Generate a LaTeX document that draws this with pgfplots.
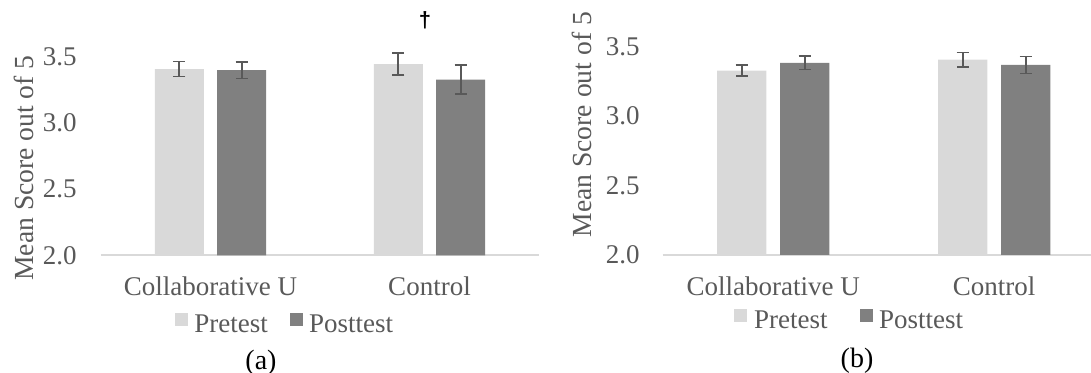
\documentclass[border=0pt]{standalone}
\usepackage{fontspec}
\setmainfont{Liberation Serif}
\newfontfamily\daggerfont{Liberation Sans}
\usepackage{pgfplots}
\pgfplotsset{compat=1.18}
\definecolor{txt}{HTML}{595959}
\definecolor{pre}{HTML}{D9D9D9}
\definecolor{post}{HTML}{808080}
\definecolor{err}{HTML}{595959}
\definecolor{axl}{HTML}{D9D9D9}
\newcommand{\chartfont}{\fontsize{13.5}{15}\selectfont}
\pgfplotsset{
  mystyle/.style={
    scale only axis, anchor=south west,
    ybar, bar width=0.2235,
    ymin=2, ymax=3.9, xmin=-0.5, xmax=1.5, enlargelimits=false,
    axis lines*=left,
    y axis line style={draw=none},
    x axis line style={draw=axl, line width=1pt},
    major tick length=0pt,
    xtick={0,1}, xticklabels={Collaborative U, Control},
    ytick={2,2.5,3,3.5},
    yticklabel={\pgfmathprintnumber[fixed,fixed zerofill,precision=1]{\tick}},
    /pgf/number format/assume math mode=true,
    ticklabel style={font=\chartfont, text=txt},
    label style={font=\chartfont, text=txt},
    legend columns=2,
    legend style={draw=none, fill=none, inner sep=0pt, outer sep=0pt,
      anchor=west, row sep=0pt,
      nodes={inner sep=0pt, outer sep=0pt, font=\chartfont, text=txt}},
  },
  errstyle/.style={error bars/.cd, y dir=both, y explicit,
    error bar style={err, line width=0.8pt},
    error mark options={rotate=90, mark size=3.1pt, line width=0.8pt, err},
    /pgfplots/.cd},
}
\begin{document}
\begin{tikzpicture}
\path[use as bounding box] (0,0) rectangle (545.5pt,186.5pt);
% (a)
\begin{axis}[mystyle, at={(50.5pt,58.75pt)}, width=219pt, height=126.06pt,
  xticklabel style={anchor=base, inner sep=0pt, yshift=-20.25pt},
  yticklabel style={anchor=east, inner sep=0pt, xshift=-12pt},
  ylabel={Mean Score out of 5},
  ylabel style={at={(axis description cs:-0.1758,0.347)}, anchor=center, font=\fontsize{13.8}{15}\selectfont},
  xlabel={(a)},
  xlabel style={at={(axis description cs:0.3653,-0.4245)}, anchor=center, text=black, font=\fontsize{14}{15}\selectfont},
  legend style={at={(axis description cs:0.169,-0.2725)},
    /tikz/every even column/.append style={column sep=11pt}},
]
\addplot[fill=pre, draw=none, bar shift=-0.1425,
  legend image code/.code={\fill[pre] (0pt,0pt) rectangle (6.5pt,6.5pt); \path (9.65pt,0pt);}, errstyle]
  coordinates {(0,3.405) +- (0,0.057) (1,3.443) +- (0,0.085)};
\addplot[fill=post, draw=none, bar shift=0.1425,
  legend image code/.code={\fill[post] (0pt,0pt) rectangle (6.5pt,6.5pt); \path (9.65pt,0pt);}, errstyle]
  coordinates {(0,3.397) +- (0,0.063) (1,3.325) +- (0,0.110)};
\legend{Pretest, Posttest}
\node[text=black, inner sep=0pt, font=\daggerfont\bfseries\fontsize{11}{11}\selectfont] at (axis cs:0.979,3.77) {†};
\end{axis}
% (b)
\begin{axis}[mystyle, at={(331.35pt,59pt)}, width=221pt, height=131.96pt,
  xticklabel style={anchor=base, inner sep=0pt, yshift=-20.25pt},
  yticklabel style={anchor=east, inner sep=0pt, xshift=-11.35pt},
  ylabel={Mean Score out of 5},
  ylabel style={at={(axis description cs:-0.1817,0.4937)}, anchor=center, font=\fontsize{13.8}{15}\selectfont},
  xlabel={(b)},
  xlabel style={at={(axis description cs:0.4396,-0.4016)}, anchor=center, text=black, font=\fontsize{14}{15}\selectfont},
  legend style={at={(axis description cs:0.162,-0.247)},
    /tikz/every even column/.append style={column sep=16pt}},
]
\addplot[fill=pre, draw=none, bar shift=-0.1425,
  legend image code/.code={\fill[pre] (0pt,0pt) rectangle (6.5pt,6.5pt); \path (9.85pt,0pt);}, errstyle]
  coordinates {(0,3.327) +- (0,0.040) (1,3.406) +- (0,0.052)};
\addplot[fill=post, draw=none, bar shift=0.1425,
  legend image code/.code={\fill[post] (0pt,0pt) rectangle (6.5pt,6.5pt); \path (9.85pt,0pt);}, errstyle]
  coordinates {(0,3.383) +- (0,0.049) (1,3.368) +- (0,0.060)};
\legend{Pretest, Posttest}
\end{axis}
\end{tikzpicture}
\end{document}
